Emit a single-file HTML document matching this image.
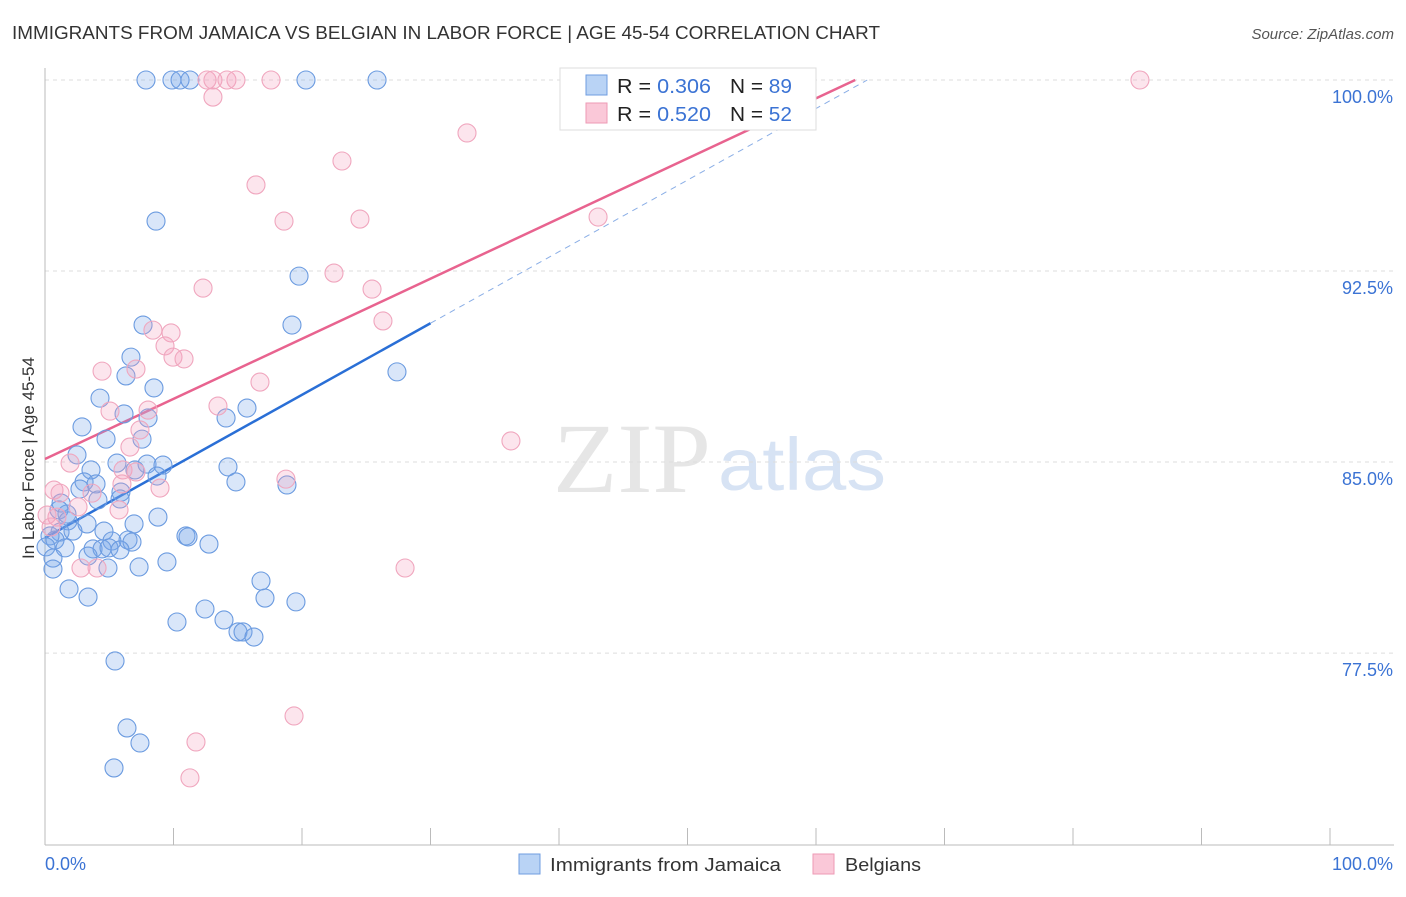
<!DOCTYPE html>
<html><head><meta charset="utf-8"><style>
body{margin:0;background:#fff;font-family:"Liberation Sans",sans-serif;}
</style></head><body>
<svg id="chart" width="1406" height="892" xmlns="http://www.w3.org/2000/svg">
<text x="12" y="39" font-size="18" fill="#333" textLength="868" lengthAdjust="spacingAndGlyphs">IMMIGRANTS FROM JAMAICA VS BELGIAN IN LABOR FORCE | AGE 45-54 CORRELATION CHART</text>
<text x="1394" y="39" font-size="15" fill="#555" font-style="italic" text-anchor="end">Source: ZipAtlas.com</text>
<text x="34" y="458" font-size="17" fill="#333" text-anchor="middle" transform="rotate(-90 34 458)">In Labor Force | Age 45-54</text>
<g>
<text x="553" y="492" font-size="100" font-family="Liberation Serif,serif" fill="#e6e6e6" textLength="158" lengthAdjust="spacingAndGlyphs">ZIP</text>
<text x="718" y="490" font-size="74" fill="#d7e3f4" textLength="168" lengthAdjust="spacingAndGlyphs">atlas</text>
</g>
<g id="grid"></g><g id="axes"></g><g id="lines"></g><g id="pts"></g>
<g>
<rect x="560" y="68" width="256" height="62" fill="#fff" stroke="#ddd"/>
<rect x="586" y="75" width="21" height="20" fill="#b9d3f5" stroke="#6f9de0"/>
<rect x="586" y="103" width="21" height="20" fill="#fac8d8" stroke="#ee9ab5"/>
<text x="617" y="93" font-size="20" fill="#222" textLength="94" lengthAdjust="spacingAndGlyphs">R = <tspan fill="#3b73d4">0.306</tspan></text>
<text x="730" y="93" font-size="20" fill="#222" textLength="62" lengthAdjust="spacingAndGlyphs">N = <tspan fill="#3b73d4">89</tspan></text>
<text x="617" y="121" font-size="20" fill="#222" textLength="94" lengthAdjust="spacingAndGlyphs">R = <tspan fill="#3b73d4">0.520</tspan></text>
<text x="730" y="121" font-size="20" fill="#222" textLength="62" lengthAdjust="spacingAndGlyphs">N = <tspan fill="#3b73d4">52</tspan></text>
</g>
<g>
<rect x="519" y="854" width="21" height="20" fill="#b9d3f5" stroke="#6f9de0"/>
<text x="550" y="871" font-size="18" fill="#333" textLength="231" lengthAdjust="spacingAndGlyphs">Immigrants from Jamaica</text>
<rect x="813" y="854" width="21" height="20" fill="#fac8d8" stroke="#ee9ab5"/>
<text x="845" y="871" font-size="18" fill="#333" textLength="76" lengthAdjust="spacingAndGlyphs">Belgians</text>
</g>
</svg>
<script>
const yTicks=[100,92.5,85,77.5];
const yTickLabels=["100.0%","92.5%","85.0%","77.5%"];
const xTicks=[0,10,20,30,40,50,60,70,80,90,100];
const blueX=[7.86,9.88,10.51,11.28,20.31,25.84,8.64,19.77,7.63,19.22,6.69,6.30,8.48,27.39,4.28,6.15,15.72,8.02,14.09,2.88,4.75,7.55,2.49,3.58,5.60,7.94,9.18,7.00,14.24,8.72,14.86,18.83,3.04,3.97,2.72,5.91,5.84,4.12,1.25,1.09,1.71,8.79,1.79,3.27,6.93,4.59,1.17,2.18,0.39,0.78,6.46,5.21,10.97,11.13,12.76,6.77,1.56,3.74,4.44,4.98,0.08,5.84,3.35,0.62,9.49,4.90,7.32,0.62,1.87,3.35,16.81,17.12,19.53,12.45,10.27,13.93,15.02,15.41,16.26,5.45,6.38,7.39,5.37];
const blueY=[100,100,100,100,100,100,94.46,92.30,90.38,90.38,89.12,88.38,87.91,88.54,87.51,86.89,87.12,86.73,86.73,86.38,85.90,85.90,85.28,84.69,84.96,84.92,84.88,84.69,84.81,84.45,84.22,84.10,84.22,84.14,83.94,83.82,83.55,83.51,83.39,83.12,82.96,82.84,82.69,82.57,82.57,82.29,82.25,82.29,82.10,81.94,81.94,81.90,82.10,82.06,81.78,81.86,81.63,81.59,81.59,81.63,81.67,81.55,81.31,81.23,81.08,80.84,80.88,80.80,80.02,79.70,80.33,79.66,79.51,79.23,78.72,78.80,78.33,78.33,78.13,77.19,74.56,73.97,72.99];
const pinkX=[12.61,13.07,14.16,14.86,17.59,52.22,85.21,13.07,32.84,23.11,16.42,18.60,24.51,43.04,22.49,12.30,25.45,26.30,8.40,9.81,9.34,9.96,10.82,7.08,4.44,16.73,13.46,5.06,8.02,7.39,6.61,36.26,1.95,6.07,18.75,3.66,0.70,1.17,8.95,2.57,5.76,0.93,2.80,4.05,28.02,19.38,11.75,11.28,0.16,0.47,5.99,7.08];
const pinkY=[100,100,100,100,100,100,100,99.33,97.92,96.82,95.88,94.46,94.54,94.62,92.42,91.83,91.79,90.54,90.18,90.07,89.56,89.12,89.05,88.65,88.57,88.14,87.20,87.00,87.04,86.26,85.59,85.83,84.96,84.69,84.33,83.78,83.90,83.78,83.98,83.24,83.12,82.84,80.84,80.84,80.84,75.03,74.01,72.60,82.92,82.45,84.14,84.61];
const blueFit=[82.02,0.281]; const pinkFit=[85.12,0.236];
const X=v=>45+v*12.85, Y=v=>80+(100-v)*25.47;
const NS="http://www.w3.org/2000/svg";
function mk(t,a,p){const e=document.createElementNS(NS,t);for(const k in a)e.setAttribute(k,a[k]);document.getElementById(p).appendChild(e);return e;}
yTicks.forEach((t,i)=>{
 const g=mk('line',{x1:45,x2:1394,y1:Y(t),y2:Y(t),stroke:'#ddd','stroke-dasharray':'4 4'},'grid');
 
 
 const l=mk('text',{x:1393,y:Y(t)+23,'font-size':18,fill:'#3b73d4','text-anchor':'end'},'grid');
 l.textContent=yTickLabels[i];
 
 
});
let a=mk('line',{x1:45,x2:45,y1:68,y2:845,stroke:'#bbb'},'axes');


a=mk('line',{x1:45,x2:1394,y1:845,y2:845,stroke:'#bbb'},'axes');


xTicks.forEach(t=>{const e=mk('line',{x1:X(t),x2:X(t),y1:828,y2:845,stroke:'#bbb'},'axes');
 
 });
let xl=mk('text',{x:45,y:870,'font-size':18,fill:'#3b73d4'},'axes');xl.textContent='0.0%';


xl=mk('text',{x:1393,y:870,'font-size':18,fill:'#3b73d4','text-anchor':'end'},'axes');xl.textContent='100.0%';


function dot(x,y,f,s,n){const c=mk('circle',{cx:X(x),cy:Y(y),r:9,fill:f,stroke:s,'stroke-width':1.1},'pts');
 
 }
blueX.forEach((x,i)=>dot(x,blueY[i],'rgba(120,165,235,0.28)','#6b9be0','jamaica-point'));
pinkX.forEach((x,i)=>dot(x,pinkY[i],'rgba(245,160,190,0.28)','#f0a6be','belgians-point'));
let ln=mk('line',{x1:X(0),y1:Y(blueFit[0]),x2:X(30),y2:Y(blueFit[0]+30*blueFit[1]),stroke:'#2a6fd6','stroke-width':2.5},'lines');


const bx=(100-blueFit[0])/blueFit[1];
ln=mk('line',{x1:X(30),y1:Y(blueFit[0]+30*blueFit[1]),x2:X(bx),y2:Y(100),stroke:'#8aaee6','stroke-width':1,'stroke-dasharray':'6 5'},'lines');


const px=(100-pinkFit[0])/pinkFit[1];
ln=mk('line',{x1:X(0),y1:Y(pinkFit[0]),x2:X(px),y2:Y(100),stroke:'#e8638f','stroke-width':2.5},'lines');


</script>
</body></html>
